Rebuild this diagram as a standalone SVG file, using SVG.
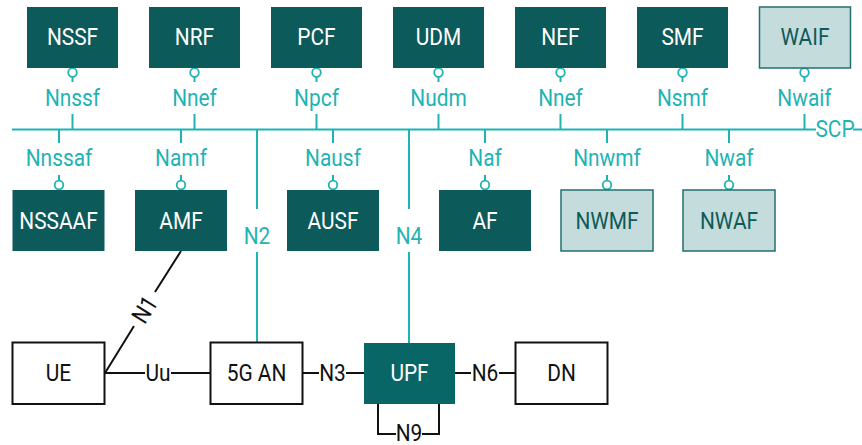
<svg xmlns="http://www.w3.org/2000/svg" width="862" height="445" viewBox="0 0 862 445">
  <style>
    text { font-family: Roboto, "Liberation Sans", sans-serif; font-size: 24px; text-anchor: middle;
           transform-box: fill-box; transform-origin: center; transform: scaleX(0.87); }
    .nf rect { fill: #0d5a5a; }
    .nf text { fill: #ffffff; }
    .nfl rect { fill: #c5dcdc; stroke: #236f6f; stroke-width: 1.5; }
    .nfl text { fill: #0d5a5a; }
    .ext rect { fill: #ffffff; stroke: #111111; stroke-width: 2; }
    .ext text { fill: #111111; }
    .upf rect { fill: #086666; }
    .upf text { fill: #ffffff; }
    .bus { stroke: #1fb3b3; stroke-width: 2; fill: none; }
    .sbi { stroke: #1fb3b3; stroke-width: 1.8; fill: #ffffff; }
    .tl { fill: #1fb3b3; }
    .ref { stroke: #111111; stroke-width: 2; fill: none; }
    .bl { fill: #111111; }
  </style>

  <!-- service-based interface bus and stubs -->
  <g id="connectors">
    <path class="bus" d="M12 129.5H816 M853 129.5H862"/>
    <!-- upper stubs -->
    <path class="bus" d="M72.5 77V82 M72.5 114V129.5 M194.5 77V82 M194.5 114V129.5 M316.5 77V82 M316.5 114V129.5 M438.5 77V82 M438.5 114V129.5 M560.5 77V82 M560.5 114V129.5 M682.5 77V82 M682.5 114V129.5 M804.5 77V82 M804.5 114V129.5"/>
    <circle class="sbi" cx="72.5" cy="72.5" r="4.3"/>
    <circle class="sbi" cx="194.5" cy="72.5" r="4.3"/>
    <circle class="sbi" cx="316.5" cy="72.5" r="4.3"/>
    <circle class="sbi" cx="438.5" cy="72.5" r="4.3"/>
    <circle class="sbi" cx="560.5" cy="72.5" r="4.3"/>
    <circle class="sbi" cx="682.5" cy="72.5" r="4.3"/>
    <circle class="sbi" cx="804.5" cy="72.5" r="4.3"/>
    <text class="tl" x="72.5" y="106">Nnssf</text>
    <text class="tl" x="194.5" y="106">Nnef</text>
    <text class="tl" x="316.5" y="106">Npcf</text>
    <text class="tl" x="438.5" y="106">Nudm</text>
    <text class="tl" x="560.5" y="106">Nnef</text>
    <text class="tl" x="682.5" y="106">Nsmf</text>
    <text class="tl" x="804.5" y="106">Nwaif</text>
    <text class="tl" x="835" y="137">SCP</text>
    <!-- lower stubs -->
    <path class="bus" d="M59 129.5V143 M59 175V181 M181 129.5V143 M181 175V181 M333 129.5V143 M333 175V181 M485 129.5V143 M485 175V181 M607 129.5V143 M607 175V181 M729 129.5V143 M729 175V181"/>
    <circle class="sbi" cx="59" cy="185" r="4.3"/>
    <circle class="sbi" cx="181" cy="185" r="4.3"/>
    <circle class="sbi" cx="333" cy="185" r="4.3"/>
    <circle class="sbi" cx="485" cy="185" r="4.3"/>
    <circle class="sbi" cx="607" cy="185" r="4.3"/>
    <circle class="sbi" cx="729" cy="185" r="4.3"/>
    <text class="tl" x="59" y="166">Nnssaf</text>
    <text class="tl" x="181" y="166">Namf</text>
    <text class="tl" x="333" y="166">Nausf</text>
    <text class="tl" x="485" y="166">Naf</text>
    <text class="tl" x="607" y="166">Nnwmf</text>
    <text class="tl" x="729" y="166">Nwaf</text>
    <!-- N2 / N4 -->
    <path class="bus" d="M257 129.5V209 M257 252V342 M409 129.5V209 M409 252V343"/>
    <text class="tl" x="257" y="244">N2</text>
    <text class="tl" x="409" y="244">N4</text>
    <!-- reference points -->
    <path class="ref" d="M105 373L134 326 M155 292L181 251"/>
    <g transform="translate(144.5 309.5) rotate(-58)">
      <text class="bl" x="0" y="8.5">N1</text>
    </g>
    <path class="ref" d="M105 373H145 M171 373H210"/>
    <text class="bl" x="158" y="381">Uu</text>
    <path class="ref" d="M303 373H319 M346 373H364"/>
    <text class="bl" x="332.5" y="381">N3</text>
    <path class="ref" d="M455 373H471 M499 373H516"/>
    <text class="bl" x="485" y="381">N6</text>
    <path class="ref" d="M378 404V434H396 M422 434H439V404"/>
    <text class="bl" x="409" y="441">N9</text>
  </g>

  <g id="nssf" class="nf"><rect x="27" y="7" width="91" height="61"/><text x="72.5" y="45">NSSF</text></g>
  <g id="nrf" class="nf"><rect x="149" y="7" width="91" height="61"/><text x="194.5" y="45">NRF</text></g>
  <g id="pcf" class="nf"><rect x="271" y="7" width="91" height="61"/><text x="316.5" y="45">PCF</text></g>
  <g id="udm" class="nf"><rect x="393" y="7" width="91" height="61"/><text x="438.5" y="45">UDM</text></g>
  <g id="nef" class="nf"><rect x="515" y="7" width="91" height="61"/><text x="560.5" y="45">NEF</text></g>
  <g id="smf" class="nf"><rect x="637" y="7" width="91" height="61"/><text x="682.5" y="45">SMF</text></g>
  <g id="waif" class="nfl"><rect x="759.5" y="7" width="91" height="61"/><text x="805" y="45">WAIF</text></g>

  <g id="nssaaf" class="nf"><rect x="12.5" y="190" width="92" height="61"/><text x="58.5" y="229">NSSAAF</text></g>
  <g id="amf" class="nf"><rect x="135" y="190" width="92" height="61"/><text x="181" y="229">AMF</text></g>
  <g id="ausf" class="nf"><rect x="287" y="190" width="92" height="61"/><text x="333" y="229">AUSF</text></g>
  <g id="af" class="nf"><rect x="439" y="190" width="92" height="61"/><text x="485" y="229">AF</text></g>
  <g id="nwmf" class="nfl"><rect x="561" y="190" width="92" height="61"/><text x="607" y="229">NWMF</text></g>
  <g id="nwaf" class="nfl"><rect x="683" y="190" width="92" height="61"/><text x="729" y="229">NWAF</text></g>

  <g id="ue" class="ext"><rect x="12.5" y="342.5" width="92" height="61.5"/><text x="58.5" y="381">UE</text></g>
  <g id="gan" class="ext"><rect x="210.5" y="342.5" width="92" height="61.5"/><text x="256.5" y="381">5G AN</text></g>
  <g id="upf" class="upf"><rect x="364" y="343" width="91" height="61"/><text x="409.5" y="381">UPF</text></g>
  <g id="dn" class="ext"><rect x="515.5" y="342.5" width="92" height="61.5"/><text x="561.5" y="381">DN</text></g>
</svg>
